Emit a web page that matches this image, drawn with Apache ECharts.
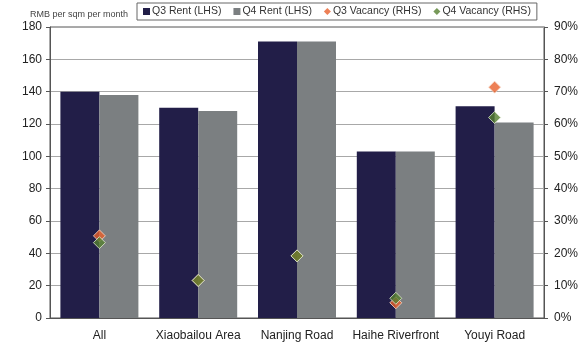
<!DOCTYPE html>
<html>
<head>
<meta charset="utf-8">
<script src="https://cdn.jsdelivr.net/npm/echarts@6/dist/echarts.min.js"></script>
<style>
  html, body { margin: 0; padding: 0; background: #fff; }
  #chart { width: 584px; height: 342px; }
</style>
</head>
<body>
<div id="chart"></div>
<script>
// Office rents by submarket (RMB per sqm per month) and vacancy rates (%)
const categories = ['All', 'Xiaobailou Area', 'Nanjing Road', 'Haihe Riverfront', 'Youyi Road'];
const q3Rent = [140, 130, 171, 103, 131];
const q4Rent = [138, 128, 171, 103, 121];
const q3Vacancy = [25.4, 11.6, 19.2, 4.7, 71.4];
const q4Vacancy = [23.3, 11.6, 19.2, 6.1, 62.0];

const FONT = 'Liberation Sans, Arial, sans-serif';
const chart = echarts.init(document.getElementById('chart'), null, { renderer: 'canvas' });

chart.setOption({
  animation: false,
  backgroundColor: '#ffffff',
  textStyle: { fontFamily: FONT },
  graphic: [{
    type: 'text',
    left: 30, top: 10,
    style: { text: 'RMB per sqm per month', fontSize: 9, fill: '#444', fontFamily: FONT }
  }],
  legend: {
    left: 137, top: 3,
    padding: [3, 6, 3, 6],
    itemGap: 12,
    itemWidth: 7, itemHeight: 7,
    borderColor: '#666', borderWidth: 1,
    textStyle: { fontSize: 10.5, color: '#333', fontFamily: FONT, padding: [0, 0, 0, -3] },
    data: [
      { name: 'Q3 Rent (LHS)', icon: 'rect' },
      { name: 'Q4 Rent (LHS)', icon: 'rect' },
      { name: 'Q3 Vacancy (RHS)', icon: 'diamond', itemStyle: { borderWidth: 0 } },
      { name: 'Q4 Vacancy (RHS)', icon: 'diamond', itemStyle: { borderWidth: 0 } }
    ]
  },
  grid: {
    left: 50, right: 40, top: 27, bottom: 24,
    show: true, borderColor: '#555', borderWidth: 1
  },
  xAxis: {
    type: 'category',
    data: categories,
    axisLine: { lineStyle: { color: '#555' } },
    axisTick: { inside: true, length: 4, lineStyle: { color: '#555' } },
    axisLabel: { fontSize: 12, color: '#222', margin: 12, interval: 0 }
  },
  yAxis: [{
    type: 'value', min: 0, max: 180, interval: 20,
    axisLine: { show: true, lineStyle: { color: '#555' } },
    axisTick: { show: true, length: 4, lineStyle: { color: '#555' } },
    axisLabel: { fontSize: 12, color: '#222', margin: 8 },
    splitLine: { lineStyle: { color: '#a8a8a8', width: 1 } }
  }, {
    type: 'value', min: 0, max: 90, interval: 10,
    axisLine: { show: true, lineStyle: { color: '#555' } },
    axisTick: { show: true, length: 4, lineStyle: { color: '#555' } },
    axisLabel: { fontSize: 12, color: '#222', margin: 10, formatter: '{value}%' },
    splitLine: { show: false }
  }],
  series: [{
    name: 'Q3 Rent (LHS)', type: 'bar', data: q3Rent,
    barWidth: 39, barGap: '0%',
    itemStyle: { color: '#221e48' }
  }, {
    name: 'Q4 Rent (LHS)', type: 'bar', data: q4Rent,
    barWidth: 39,
    itemStyle: { color: '#7b7f81' }
  }, {
    name: 'Q3 Vacancy (RHS)', type: 'scatter', yAxisIndex: 1, data: q3Vacancy,
    symbol: 'diamond', symbolSize: 12,
    itemStyle: { color: '#e8602c', borderColor: '#f6d9c8', borderWidth: 1 },
    z: 3
  }, {
    name: 'Q4 Vacancy (RHS)', type: 'scatter', yAxisIndex: 1, data: q4Vacancy,
    symbol: 'diamond', symbolSize: 12,
    itemStyle: { color: '#55802f', borderColor: '#dfe8d0', borderWidth: 1 },
    z: 4
  }]
});
</script>
</body>
</html>
